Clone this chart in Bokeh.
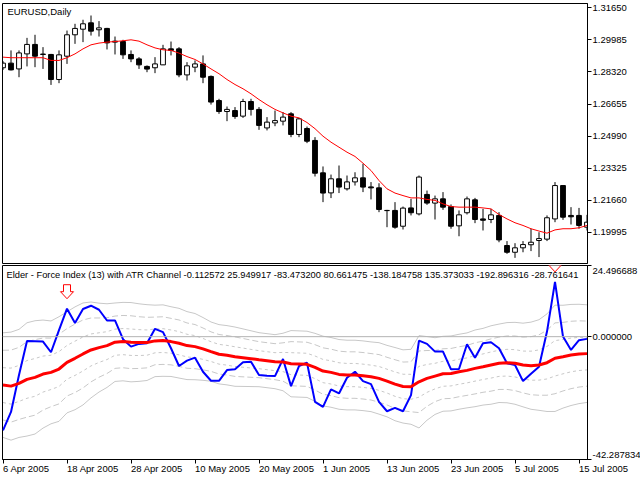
from bokeh.plotting import figure
from bokeh.layouts import column
from bokeh.models import (Range1d, FixedTicker, PrintfTickFormatter, Label, Span,
                          ColumnDataSource, CustomJSTickFormatter)
from bokeh.embed import file_html
from bokeh.resources import INLINE

# ---------------- data ----------------
symbol_title = "EURUSD,Daily"
indicator_title = "Elder - Force Index (13) with ATR Channel"
header_values = "-0.112572 25.949917 -83.473200 80.661475 -138.184758 135.373033 -192.896316 -28.761641"

dates = ["6 Apr 2005", "18 Apr 2005", "28 Apr 2005", "10 May 2005", "20 May 2005",
         "1 Jun 2005", "13 Jun 2005", "23 Jun 2005", "5 Jul 2005", "15 Jul 2005"]
date_idx = [0, 8, 16, 24, 32, 40, 48, 56, 64, 72]

opens = [1.2854, 1.2878, 1.2848, 1.2926, 1.2975, 1.2925, 1.2923, 1.2793, 1.2914, 1.3025,
         1.3054, 1.3087, 1.3051, 1.3058, 1.2987, 1.2990, 1.2923, 1.2900, 1.2861, 1.2854,
         1.2869, 1.2952, 1.2952, 1.2817, 1.2857, 1.2874, 1.2809, 1.2684, 1.2627, 1.2632,
         1.2603, 1.2679, 1.2638, 1.2542, 1.2568, 1.2577, 1.2615, 1.2508, 1.2539, 1.2477,
         1.2309, 1.2205, 1.2278, 1.2226, 1.2262, 1.2283, 1.2236, 1.2231, 1.2114, 1.2114,
         1.2032, 1.2127, 1.2096, 1.2197, 1.2152, 1.2174, 1.2134, 1.2034, 1.2102, 1.2169,
         1.2070, 1.2067, 1.2088, 1.1932, 1.1897, 1.1920, 1.1936, 1.1958, 1.1965, 1.2070,
         1.2243, 1.2088, 1.2088, 1.2027]
highs = [1.2888, 1.2944, 1.2944, 1.3009, 1.3025, 1.2961, 1.2926, 1.2944, 1.3047, 1.3082,
         1.3103, 1.3125, 1.3096, 1.3061, 1.3016, 1.2999, 1.2944, 1.2909, 1.2866, 1.2909,
         1.2973, 1.2990, 1.2961, 1.2883, 1.2892, 1.2918, 1.2814, 1.2693, 1.2653, 1.2650,
         1.2693, 1.2693, 1.2650, 1.2598, 1.2632, 1.2624, 1.2624, 1.2594, 1.2549, 1.2494,
         1.2342, 1.2300, 1.2347, 1.2295, 1.2312, 1.2356, 1.2261, 1.2255, 1.2117, 1.2157,
         1.2134, 1.2174, 1.2295, 1.2217, 1.2191, 1.2209, 1.2145, 1.2114, 1.2186, 1.2179,
         1.2122, 1.2122, 1.2105, 1.1955, 1.1944, 1.1955, 1.2019, 1.2001, 1.2088, 1.2261,
         1.2243, 1.2131, 1.2127, 1.2091]
lows = [1.2843, 1.2840, 1.2805, 1.2861, 1.2857, 1.2848, 1.2765, 1.2774, 1.2874, 1.2978,
        1.2987, 1.3021, 1.3016, 1.2949, 1.2923, 1.2900, 1.2883, 1.2848, 1.2831, 1.2826,
        1.2869, 1.2918, 1.2805, 1.2788, 1.2831, 1.2774, 1.2663, 1.2615, 1.2577, 1.2589,
        1.2594, 1.2606, 1.2532, 1.2529, 1.2551, 1.2555, 1.2494, 1.2494, 1.2463, 1.2290,
        1.2157, 1.2178, 1.2204, 1.2217, 1.2243, 1.2209, 1.2171, 1.2105, 1.2027, 1.2019,
        1.2015, 1.2088, 1.2088, 1.2143, 1.2067, 1.2117, 1.2019, 1.1980, 1.2093, 1.2048,
        1.2010, 1.2048, 1.1949, 1.1889, 1.1868, 1.1897, 1.1903, 1.1872, 1.1955, 1.2053,
        1.2065, 1.2041, 1.2019, 1.2010]
closes = [1.2878, 1.2843, 1.2931, 1.2975, 1.2914, 1.2923, 1.2793, 1.2921, 1.3025, 1.3058,
          1.3082, 1.3044, 1.3061, 1.2983, 1.2992, 1.2921, 1.2900, 1.2869, 1.2847, 1.2874,
          1.2952, 1.2944, 1.2817, 1.2864, 1.2874, 1.2805, 1.2676, 1.2627, 1.2638, 1.2601,
          1.2679, 1.2638, 1.2555, 1.2572, 1.2580, 1.2598, 1.2508, 1.2589, 1.2473, 1.2307,
          1.2204, 1.2278, 1.2235, 1.2262, 1.2283, 1.2235, 1.2231, 1.2119, 1.2113, 1.2027,
          1.2126, 1.2102, 1.2287, 1.2152, 1.2174, 1.2131, 1.2032, 1.2091, 1.2174, 1.2067,
          1.2063, 1.2091, 1.1961, 1.1897, 1.1920, 1.1937, 1.1949, 1.1968, 1.2076, 1.2243,
          1.2079, 1.2081, 1.2036, 1.2053]
ma = [1.2909, 1.2906, 1.2906, 1.2906, 1.2906, 1.2906, 1.2892, 1.2892, 1.2906, 1.2926,
      1.2952, 1.2973, 1.2982, 1.2987, 1.2990, 1.2994, 1.2999, 1.2992, 1.2973, 1.2957,
      1.2947, 1.2944, 1.2930, 1.2912, 1.2897, 1.2874, 1.2848, 1.2823, 1.2793, 1.2767,
      1.2745, 1.2719, 1.2689, 1.2662, 1.2638, 1.2620, 1.2603, 1.2594, 1.2570, 1.2538,
      1.2499, 1.2468, 1.2442, 1.2416, 1.2394, 1.2359, 1.2321, 1.2269, 1.2226, 1.2204,
      1.2191, 1.2179, 1.2179, 1.2171, 1.2166, 1.2148, 1.2134, 1.2131, 1.2131, 1.2131,
      1.2127, 1.2122, 1.2093, 1.2070, 1.2050, 1.2036, 1.2019, 1.2007, 1.1996, 1.2013,
      1.2019, 1.2019, 1.2024, 1.2036]
price_ticks = [1.31650, 1.29985, 1.28320, 1.26655, 1.24990, 1.23325, 1.21660, 1.19995]
price_lo, price_hi = 1.18387, 1.31873

force = [-32.25, -25.92, -13.22, -1.46, -1.56, -1.70, -5.37, 2.28, 9.62, 4.67,
         9.51, 10.65, 9.27, 5.57, 5.57, -0.87, -3.43, -2.49, -2.25, 2.70,
         1.55, -4.00, -10.11, -8.27, -7.23, -12.08, -15.19, -15.19, -11.49, -11.25,
         -8.83, -8.62, -13.22, -13.46, -13.57, -7.68, -17.03, -10.11, -8.96, -22.46,
         -24.19, -18.17, -19.55, -14.15, -12.08, -15.30, -16.34, -22.46, -25.68, -24.54,
         -25.68, -20.14, -1.35, -2.49, -5.15, -5.15, -11.25, -11.14, -2.60, -7.23,
         -2.25, -1.91, -3.98, -9.17, -9.76, -15.30, -12.77, -10.35, 1.76, 18.86,
         0.03, -4.57, -1.22, -0.76]
signal = [-16.68, -17.03, -16.09, -14.71, -14.02, -12.88, -12.30, -11.14, -8.83, -7.45,
          -5.95, -4.57, -3.77, -3.08, -1.91, -1.70, -1.91, -2.04, -2.04, -1.46,
          -1.35, -1.70, -2.25, -3.08, -3.43, -4.22, -5.15, -6.06, -6.40, -6.89,
          -7.23, -7.58, -7.93, -8.27, -8.62, -8.72, -9.31, -9.41, -9.52, -10.56,
          -11.84, -12.30, -12.99, -13.22, -13.22, -13.46, -13.81, -14.37, -15.30, -16.34,
          -17.14, -17.26, -15.53, -14.37, -13.57, -12.77, -12.66, -12.08, -11.61, -10.91,
          -10.35, -9.76, -9.17, -8.96, -9.17, -9.76, -10.00, -9.76, -8.96, -7.45,
          -6.89, -6.30, -5.95, -5.84]
atr = [6.0, 6.2, 6.2, 6.5, 6.5, 6.2, 5.9, 6.0, 5.8, 5.9,
       5.85, 5.5, 5.1, 4.8, 4.5, 4.5, 4.55, 4.45, 4.35, 4.1,
       4.1, 4.0, 4.0, 3.9, 3.8, 3.6, 3.4, 3.4, 3.4, 3.4,
       3.3, 3.2, 3.1, 3.1, 3.1, 3.3, 3.8, 3.8, 3.8, 3.9,
       4.0, 4.0, 4.0, 4.0, 4.0, 4.0, 4.0, 4.1, 4.1, 4.2,
       4.2, 4.3, 5.3, 4.8, 4.4, 4.3, 4.3, 4.3, 4.3, 4.4,
       4.4, 4.5, 4.5, 4.6, 4.7, 4.8, 5.0, 5.2, 5.6, 6.1,
       5.9, 5.8, 5.7, 5.6]
channel_mult = [1, 2, 3]
fi_lo, fi_hi = -42.287834, 24.496688
fi_labels = ["-42.287834", "0.000000", "24.496688"]
arrow_idx = [8, 69]

# ---------------- layout / style ----------------
FONT = "Liberation Sans"
FS = "9.5px"
FW = 585
FH1 = 260
FH2 = 194
n = len(opens)
idx = list(range(n))
X0, X1 = -0.0625, (n - 1) + 0.0625

common = dict(output_backend="svg", toolbar_location=None, frame_width=FW,
              min_border_left=2, min_border_right=53, background_fill_color="white",
              border_fill_color="white", y_axis_location="right")


def style_axis(a):
    a.major_tick_in = 0
    a.minor_tick_in = 0
    a.major_tick_line_color = "black"
    a.minor_tick_line_color = "black"
    a.axis_line_color = "black"
    a.major_label_text_font = FONT
    a.major_label_text_font_size = FS
    a.major_label_text_color = "black"


# ---------- price panel ----------
p1 = figure(frame_height=FH1, x_range=Range1d(X0, X1), y_range=Range1d(price_lo, price_hi),
            x_axis_location=None, min_border_top=3, min_border_bottom=1, **common)
p1.grid.grid_line_color = None
p1.outline_line_color = "black"
p1.outline_line_alpha = 1.0
p1.outline_line_width = 1

ax = p1.yaxis[0]
style_axis(ax)
ax.ticker = FixedTicker(ticks=price_ticks, minor_ticks=[])
ax.formatter = PrintfTickFormatter(format="%.5f")
ax.major_tick_out = 4
ax.minor_tick_out = 0
ax.major_label_standoff = 1

min_body = 0.0001
tops, bots, fills = [], [], []
for o, c in zip(opens, closes):
    t, b = max(o, c), min(o, c)
    if t - b < min_body:
        t = b + min_body
    tops.append(t)
    bots.append(b)
    fills.append("white" if c >= o else "black")
src = ColumnDataSource(dict(x=idx, h=highs, l=lows, top=tops, bot=bots, fill=fills))
p1.segment("x", "l", "x", "h", source=src, line_color="black", line_width=1)
p1.vbar(x="x", width=0.6, top="top", bottom="bot", fill_color="fill",
        line_color="black", line_width=1, source=src)
p1.line(idx, ma, line_color="#ff0000", line_width=1)

dpp1 = (price_hi - price_lo) / FH1
p1.add_layout(Label(x=X0, y=price_hi - 2 * dpp1, x_offset=5, text=symbol_title,
                    text_baseline="top", text_align="left", text_font=FONT,
                    text_font_size=FS, text_color="black"))

# ---------- indicator panel ----------
p2 = figure(frame_height=FH2, x_range=p1.x_range, y_range=Range1d(fi_lo, fi_hi),
            x_axis_location="below", min_border_top=1, min_border_bottom=20, **common)
p2.grid.grid_line_color = None
p2.outline_line_color = "black"
p2.outline_line_alpha = 1.0
p2.outline_line_width = 1

dpp2 = (fi_hi - fi_lo) / FH2
ay = p2.yaxis[0]
style_axis(ay)
# labels for the extreme values sit just inside the panel, tick marks at the extremes
ay.ticker = FixedTicker(ticks=[fi_lo + 5 * dpp2, 0.0, fi_hi - 5 * dpp2],
                        minor_ticks=[fi_lo, 0.0, fi_hi])
ay.formatter = CustomJSTickFormatter(args=dict(labels=fi_labels), code="return labels[index];")
ay.major_tick_out = 0
ay.minor_tick_out = 4
ay.major_label_standoff = 1

axx = p2.xaxis[0]
style_axis(axx)
axx.ticker = FixedTicker(ticks=date_idx, minor_ticks=[])
axx.formatter = CustomJSTickFormatter(args=dict(labels=dates), code="return labels[index];")
axx.major_tick_out = 4
axx.minor_tick_out = 0
axx.major_label_orientation = -0.0001
axx.major_label_standoff = 5

dashes = {1: "3 3", 2: "6 3", 3: "solid"}
for k in channel_mult:
    upper = [s + k * a for s, a in zip(signal, atr)]
    lower = [s - k * a for s, a in zip(signal, atr)]
    p2.line(idx, upper, line_color="#c8c8c8", line_width=1, line_dash=dashes[k])
    p2.line(idx, lower, line_color="#c8c8c8", line_width=1, line_dash=dashes[k])

p2.add_layout(Span(location=0, dimension="width", line_color="#b4b4b4", line_width=1))

p2.line(idx, force, line_color="#0000ff", line_width=2)
p2.line(idx, signal, line_color="#ff0000", line_width=3)

ppx = FW / (X1 - X0)
shape_x = [0, -6.5, -3.5, -3.5, 3.5, 3.5, 6.5]
shape_y = [0, 7, 7, 14, 14, 7, 7]
axs = [[i + dx / ppx for dx in shape_x] for i in arrow_idx]
ays = [[force[i] + (10 + dy) * dpp2 for dy in shape_y] for i in arrow_idx]
p2.patches(axs, ays, fill_color="white", line_color="#ff0000", line_width=1)

p2.add_layout(Label(x=X0, y=fi_hi - 4 * dpp2, x_offset=4,
                    text=indicator_title + " " + header_values,
                    text_baseline="top", text_align="left", text_font=FONT,
                    text_font_size="9.3px", text_color="black"))

layout = column(p1, p2, spacing=0)
open("out.html", "w").write(file_html(layout, INLINE))
